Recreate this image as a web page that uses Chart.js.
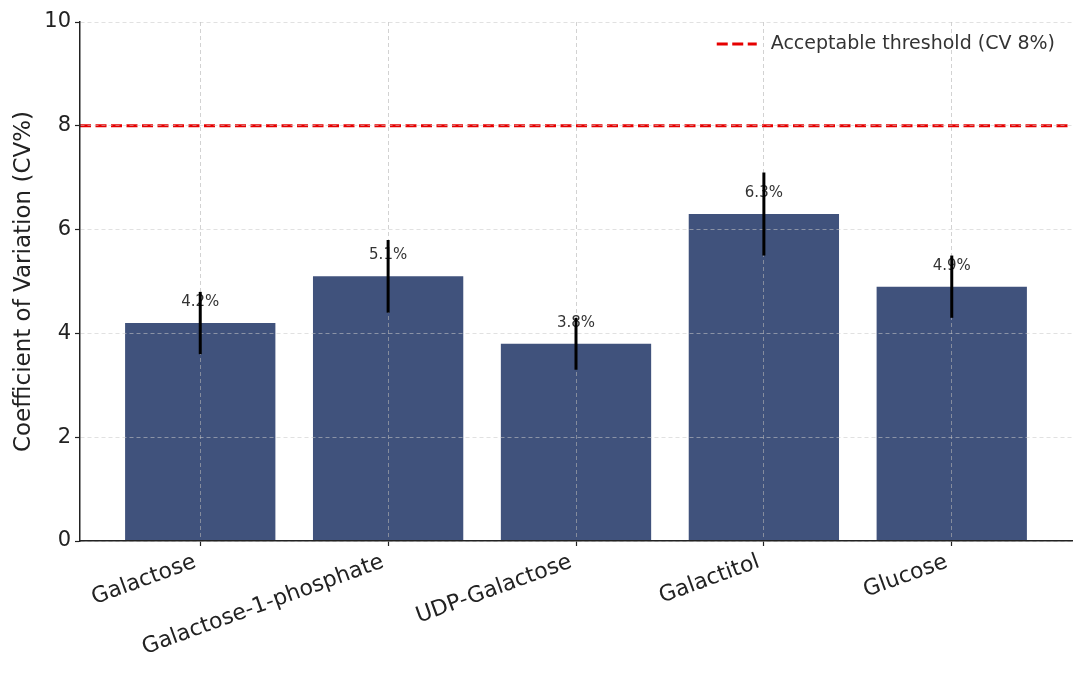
<!DOCTYPE html>
<html>
<head>
<meta charset="utf-8">
<script src="https://cdn.jsdelivr.net/npm/chart.js@4.4.1/dist/chart.umd.min.js"></script>
<style>
  html, body { margin: 0; padding: 0; background: #fff; }
  #wrap { width: 1086px; height: 674px; }
</style>
</head>
<body>
<div id="wrap"><canvas id="grafico"></canvas></div>
<script>
// valores
var metabolitos = ['Galactose', 'Galactose-1-phosphate', 'UDP-Galactose', 'Galactitol', 'Glucose'];
var cvValores = [4.2, 5.1, 3.8, 6.3, 4.9];
var cvErrores = [0.6, 0.7, 0.5, 0.8, 0.6];
var umbral = 8;
var ticksY = [0, 2, 4, 6, 8, 10];
var limitesX = [-0.64, 4.64];

var fuente = 'DejaVu Sans';

var puntosBarras = metabolitos.map(function (m, i) { return { x: i, y: cvValores[i] }; });
var puntosUmbral = limitesX.map(function (x) { return { x: x, y: umbral }; });

// barras de error y etiquetas encima de cada barra
var pluginErrores = {
  id: 'errores',
  afterDraw: function (chart) {
    var ctx = chart.ctx;
    var sx = chart.scales.x, sy = chart.scales.y;
    ctx.save();
    ctx.font = '15px ' + fuente;
    ctx.fillStyle = '#333';
    ctx.textAlign = 'center';
    ctx.textBaseline = 'bottom';
    for (var i = 0; i < cvValores.length; i++) {
      ctx.fillText(cvValores[i].toFixed(1) + '%', sx.getPixelForValue(i), sy.getPixelForValue(cvValores[i] + 0.3) + 2);
    }
    ctx.strokeStyle = '#000';
    ctx.lineWidth = 3;
    for (var j = 0; j < cvValores.length; j++) {
      var px = sx.getPixelForValue(j);
      ctx.beginPath();
      ctx.moveTo(px, sy.getPixelForValue(cvValores[j] - cvErrores[j]));
      ctx.lineTo(px, sy.getPixelForValue(cvValores[j] + cvErrores[j]));
      ctx.stroke();
    }
    ctx.restore();
  }
};

// leyenda dentro del area del grafico, arriba a la derecha
var pluginLeyenda = {
  id: 'leyendaDentro',
  afterDraw: function (chart) {
    var ds = chart.data.datasets[1];
    var ctx = chart.ctx;
    var area = chart.chartArea;
    ctx.save();
    ctx.font = '19px ' + fuente;
    var ancho = ctx.measureText(ds.label).width;
    var xTexto = area.right - 17 - ancho;
    var yc = area.top + 22;
    ctx.strokeStyle = ds.borderColor;
    ctx.lineWidth = ds.borderWidth;
    ctx.setLineDash(ds.borderDash);
    ctx.beginPath();
    ctx.moveTo(xTexto - 54, yc);
    ctx.lineTo(xTexto - 14, yc);
    ctx.stroke();
    ctx.setLineDash([]);
    ctx.fillStyle = '#333';
    ctx.textBaseline = 'middle';
    ctx.fillText(ds.label, xTexto, yc);
    ctx.restore();
  }
};

var ctx = document.getElementById('grafico');

new Chart(ctx, {
  plugins: [pluginErrores, pluginLeyenda],
  data: {
    datasets: [{
      type: 'bar',
      label: 'CV',
      data: puntosBarras,
      backgroundColor: '#40527c',
      borderWidth: 0,
      categoryPercentage: 1.0,
      barPercentage: 0.8,
      order: 2
    }, {
      type: 'line',
      label: 'Acceptable threshold (CV 8%)',
      data: puntosUmbral,
      borderColor: '#e60000',
      borderWidth: 3,
      borderDash: [11, 4.5],
      pointRadius: 0,
      fill: false,
      order: 1
    }]
  },
  options: {
    responsive: true,
    maintainAspectRatio: false,
    animation: false,
    layout: { padding: { top: 22, right: 14, left: 10, bottom: 0 } },
    plugins: {
      legend: { display: false },
      tooltip: { enabled: false }
    },
    scales: {
      x: {
        type: 'linear',
        min: limitesX[0],
        max: limitesX[1],
        offset: false,
        afterBuildTicks: function (scale) {
          scale.ticks = metabolitos.map(function (m, i) { return { value: i }; });
        },
        afterFit: function (scale) { scale.height = 133; },
        ticks: {
          autoSkip: false,
          minRotation: 20,
          maxRotation: 20,
          color: '#222',
          padding: 3,
          labelOffset: -5,
          font: { family: fuente, size: 22 },
          callback: function (v) { return metabolitos[v]; }
        },
        grid: {
          z: 1,
          offset: false,
          color: 'rgba(180,180,180,0.6)',
          lineWidth: 1,
          tickLength: 5,
          tickColor: '#222',
          tickWidth: 1.2
        },
        border: { z: 2, color: '#222', width: 1.5, dash: [4, 3] }
      },
      y: {
        min: 0,
        max: 10,
        afterBuildTicks: function (scale) {
          scale.ticks = ticksY.map(function (v) { return { value: v }; });
        },
        afterFit: function (scale) { scale.width = 70; },
        ticks: {
          color: '#222',
          padding: 4,
          font: { family: fuente, size: 21 }
        },
        title: {
          display: true,
          text: 'Coefficient of Variation (CV%)',
          color: '#222',
          font: { family: fuente, size: 23 },
          padding: { top: 0, bottom: 4 }
        },
        grid: {
          z: 1,
          color: 'rgba(200,200,200,0.55)',
          lineWidth: 1,
          tickLength: 5,
          tickColor: '#222',
          tickWidth: 1.2
        },
        border: { z: 2, color: '#222', width: 1.5, dash: [4, 3] }
      }
    }
  }
});
</script>
</body>
</html>
